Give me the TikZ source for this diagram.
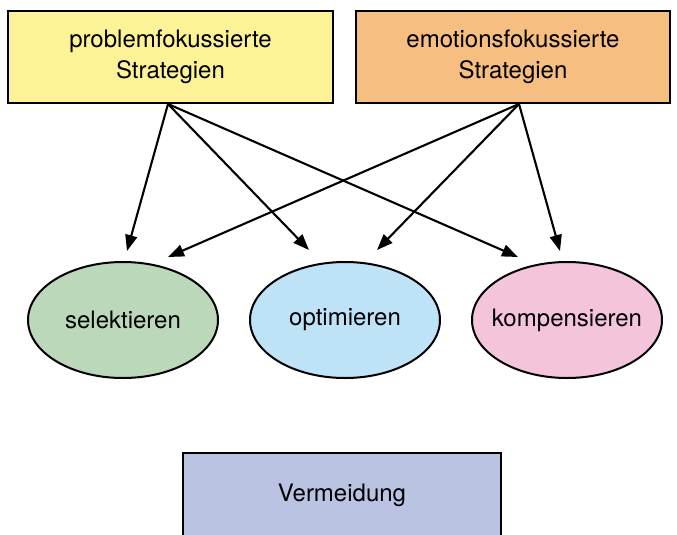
\documentclass[tikz,border=0pt]{standalone}
\usepackage{fontspec}
\setmainfont{TeX Gyre Heros}
\usetikzlibrary{shapes.geometric,arrows.meta}

\definecolor{probyellow}{RGB}{253,242,150}
\definecolor{emoorange}{RGB}{246,190,128}
\definecolor{selgreen}{RGB}{187,216,186}
\definecolor{optblue}{RGB}{190,227,247}
\definecolor{kompink}{RGB}{244,196,218}
\definecolor{vermblue}{RGB}{186,195,226}

\tikzset{
  stratbox/.style={rectangle, draw, line width=2pt, minimum height=92pt, align=center},
  soc/.style={ellipse, draw, line width=2pt, minimum width=190pt, minimum height=116pt, inner sep=0pt, inner xsep=-30pt},
  arr/.style={-{Triangle[length=16pt,width=12pt]}, line width=2.1pt}
}

\begin{document}
\begin{tikzpicture}[
      x=1pt, y=-1pt,
      every node/.style={font=\fontsize{24}{31}\selectfont}
  ]
    \useasboundingbox (0,0) rectangle (677,535);
    \clip (0,0) rectangle (677,535);

    % Strategien
    \node[stratbox, fill=probyellow, minimum width=325pt] (prob) at (170.5,57) {problemfokussierte\\Strategien};
    \node[stratbox, fill=emoorange, minimum width=314pt] (emo) at (513,57) {emotionsfokussierte\\Strategien};

    % SOK
    \node[soc, fill=selgreen] (sel) at (123,320) {selektieren};
    \node[soc, fill=optblue] (opt) at (345,320) {optimieren};
    \node[soc, fill=kompink] (komp) at (567,320) {kompensieren};

    \node[stratbox, fill=vermblue, minimum width=318pt, minimum height=84pt] (verm) at (342,495) {Vermeidung};

    % Pfeilspitzen
    \coordinate (prob-out) at (168,104);
    \coordinate (emo-out) at (519,104);
    \coordinate (sel-p) at (127,251);
    \coordinate (sel-e) at (168,257);
    \coordinate (opt-p) at (309,250);
    \coordinate (opt-e) at (377,250);
    \coordinate (komp-p) at (518,257);
    \coordinate (komp-e) at (560,251);

    \draw[arr] (prob-out) -- (sel-p);
    \draw[arr] (prob-out) -- (opt-p);
    \draw[arr] (prob-out) -- (komp-p);
    \draw[arr] (emo-out) -- (sel-e);
    \draw[arr] (emo-out) -- (opt-e);
    \draw[arr] (emo-out) -- (komp-e);

\end{tikzpicture}
\end{document}
